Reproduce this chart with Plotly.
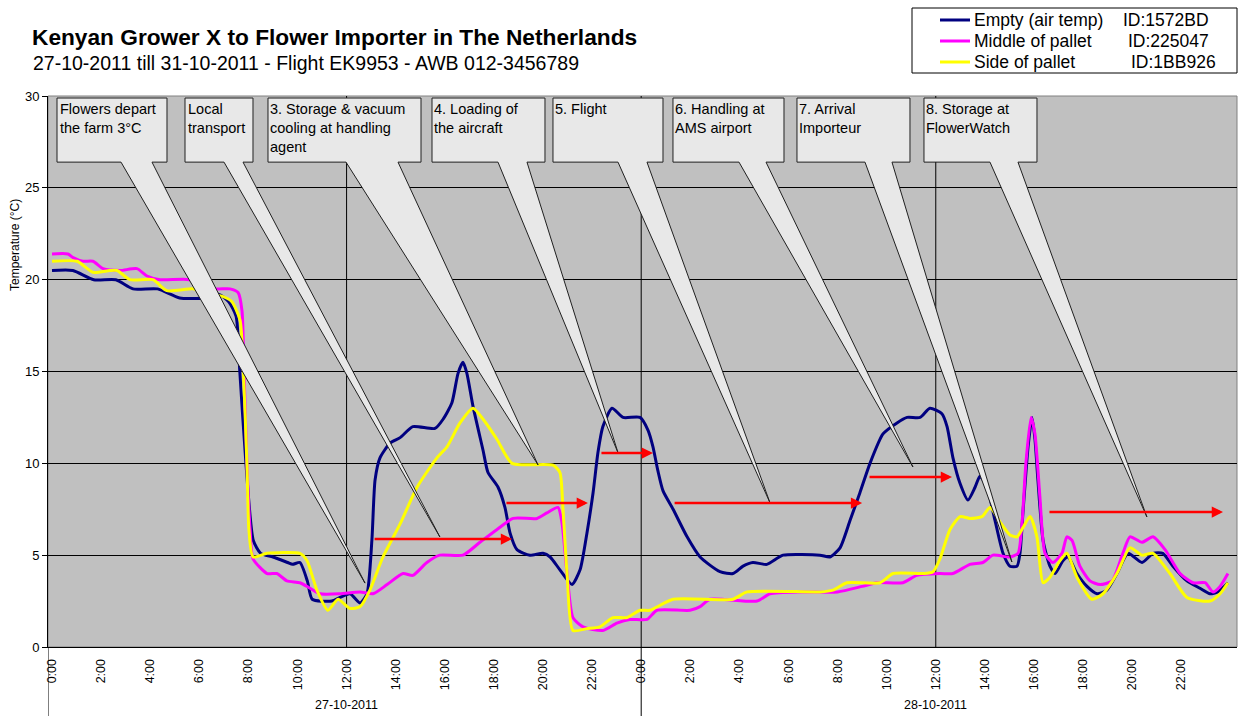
import plotly.graph_objects as go

# ------------------------------------------------------------------ data
# time axis: hours since 27-10-2011 0:00
empty_hours = [0.0, 0.85, 1.7, 2.6, 3.3, 4.3, 5.2, 6.2, 6.8, 7.2, 7.5, 7.65, 7.9, 8.2, 8.5, 9.0,
               9.6, 9.8, 10.1, 10.4, 10.6, 11.4, 11.73, 12.14, 12.55, 12.83, 13.03, 13.16, 13.36,
               13.77, 14.18, 14.70, 15.60, 15.93, 16.29, 16.54, 16.74, 16.90, 17.15, 17.56, 17.76,
               18.17, 18.45, 18.66, 18.94, 19.47, 20.0, 20.29, 20.69, 21.18, 21.51, 21.79, 22.04,
               22.24, 22.44, 22.81, 23.26, 23.95, 24.28, 24.48, 24.68, 24.89, 25.30, 25.87, 26.40,
               27.21, 27.74, 28.15, 28.55, 29.12, 29.78, 31.28, 31.69, 32.10, 32.51, 32.91, 33.32,
               33.85, 34.42, 34.83, 35.36, 35.76, 36.25, 36.46, 36.70, 36.99, 37.31, 37.60, 37.80,
               38.09, 38.41, 38.74, 39.02, 39.31, 39.43, 39.55, 39.76, 39.92, 40.04, 40.16, 40.37,
               40.65, 40.86, 41.18, 41.39, 41.75, 42.16, 42.57, 42.97, 43.38, 43.83, 44.40, 44.85,
               45.25, 45.66, 46.23, 46.76, 47.17, 47.49, 47.90]
empty_temp = [20.5, 20.5, 20.0, 20.0, 19.5, 19.5, 19.0, 19.0, 19.2, 18.8, 18.0, 15.0, 10.0, 5.8, 5.1, 4.9,
              4.6, 4.5, 4.6, 3.6, 2.6, 2.5, 2.7, 2.9, 2.4, 2.9, 5.8, 9.1, 10.3,
              11.1, 11.4, 12.0, 11.9, 12.4, 13.3, 14.9, 15.5, 14.9, 13.1, 10.7, 9.5,
              8.7, 7.6, 6.2, 5.3, 5.0, 5.1, 4.9, 4.2, 3.4, 4.2, 6.2, 8.4,
              10.6, 12.0, 13.0, 12.5, 12.5, 11.8, 10.9, 9.6, 8.5, 7.5, 6.0, 4.9,
              4.1, 4.0, 4.4, 4.6, 4.5, 5.0, 5.0, 4.9, 5.4, 6.9, 8.4, 10.0,
              11.6, 12.2, 12.5, 12.5, 13.0, 12.7, 12.0, 10.3, 8.9, 8.0, 8.7, 9.3,
              8.7, 6.9, 5.1, 4.4, 4.4, 5.1, 7.3, 10.9, 12.5, 11.3, 9.1, 5.8,
              4.4, 4.0, 4.7, 4.9, 4.0, 3.3, 2.9, 3.1, 4.0, 5.1, 4.6, 5.1,
              5.1, 4.4, 3.6, 3.2, 2.9, 3.0, 3.5]

middle_hours = [0.0, 0.65, 0.86, 1.26, 1.67, 2.08, 2.77, 3.46, 3.87, 4.40, 5.62, 6.56, 7.25, 7.58,
                7.74, 7.82, 7.94, 8.07, 8.19, 8.76, 9.16, 9.57, 10.10, 10.51, 10.92, 11.73, 12.55,
                13.08, 13.65, 14.30, 14.70, 15.27, 15.80, 16.74, 17.43, 18.13, 18.78, 19.76, 20.16,
                20.61, 20.77, 20.98, 21.22, 21.63, 22.44, 23.01, 23.54, 24.24, 24.64, 25.99,
                26.40, 26.80, 28.72, 29.25, 30.5, 32.0, 33.0, 33.60, 34.66, 35.23, 36.17, 36.70,
                37.39, 37.92, 38.33, 39.02, 39.35, 39.51, 39.67, 39.88, 40.04, 40.24, 40.45, 40.77,
                41.14, 41.34, 41.55, 41.87, 42.28, 42.69, 43.18, 43.62, 43.91, 44.40, 44.85, 45.34,
                45.95, 46.48, 46.97, 47.29, 47.58, 47.90]
middle_temp = [21.4, 21.4, 21.2, 21.0, 21.0, 20.6, 20.5, 20.6, 20.2, 20.0, 20.0, 19.5, 19.5, 19.3,
               18.3, 15.1, 10.0, 6.4, 4.8, 4.0, 4.0, 3.6, 3.5, 3.2, 2.9, 2.9, 3.0,
               2.9, 3.4, 4.0, 3.9, 4.6, 5.0, 5.0, 5.7, 6.4, 7.0, 7.0, 7.3,
               7.6, 6.8, 4.0, 1.6, 1.1, 0.9, 1.3, 1.5, 1.5, 2.0, 2.0,
               2.2, 2.6, 2.5, 2.9, 3.0, 3.0, 3.3, 3.5, 3.5, 3.9, 4.0, 4.0,
               4.5, 4.6, 5.0, 4.9, 5.1, 6.7, 10.0, 12.5, 11.6, 8.2, 5.1, 4.6,
               5.1, 6.0, 5.8, 4.4, 3.6, 3.4, 3.6, 5.1, 6.0, 5.7, 6.0, 5.3,
               4.0, 3.5, 3.5, 3.0, 3.3, 4.0]

side_hours = [0.0, 1.02, 1.67, 2.36, 2.65, 3.18, 4.11, 4.68, 5.74, 6.15, 6.92, 7.33, 7.66, 7.78,
              7.94, 8.02, 8.19, 8.76, 10.10, 10.39, 10.79, 11.24, 11.65, 12.14, 12.55, 12.95,
              13.48, 14.18, 14.87, 15.68, 16.09, 16.62, 17.15, 17.56, 18.13, 18.74, 20.41, 20.69,
              20.81, 20.98, 21.22, 21.79, 22.32, 22.85, 23.42, 23.95, 24.36, 25.30, 27.74, 28.31,
              31.28, 31.81, 32.38, 33.73, 34.26, 35.48, 35.89, 36.17, 36.58, 36.99, 37.39, 37.88,
              38.21, 38.62, 39.02, 39.31, 39.55, 39.84, 40.12, 40.37, 40.65, 41.06, 41.34, 41.75,
              42.36, 42.81, 43.38, 43.91, 44.40, 44.85, 45.54, 46.23, 47.17, 47.58, 47.90]
side_temp = [21.0, 21.0, 20.4, 20.5, 20.5, 20.0, 20.0, 19.4, 19.5, 19.3, 19.1, 18.8, 17.8, 15.5,
             10.0, 6.4, 4.9, 5.1, 5.1, 4.7, 3.1, 2.0, 2.6, 2.1, 2.2, 3.1,
             4.9, 6.7, 8.7, 10.3, 10.9, 12.2, 13.0, 12.4, 11.3, 10.0, 9.9, 9.5,
             7.6, 4.0, 0.9, 1.0, 1.1, 1.6, 1.6, 2.0, 2.0, 2.6, 2.6, 3.0,
             3.0, 3.1, 3.5, 3.5, 4.0, 4.0, 4.1, 4.8, 6.4, 7.1, 7.0, 7.1,
             7.6, 6.8, 6.1, 6.0, 6.5, 7.1, 6.0, 3.5, 3.8, 4.7, 5.1, 3.8,
             2.6, 2.9, 4.0, 5.4, 5.0, 5.1, 4.0, 2.7, 2.5, 2.9, 3.5]

series_names = ["Empty (air temp)", "Middle of pallet", "Side of pallet"]
series_ids = ["ID:1572BD", "ID:225047", "ID:1BB926"]
series_colors = ["#000080", "#FF00FF", "#FFFF00"]

tick_hours = [0, 2, 4, 6, 8, 10, 12, 14, 16, 18, 20, 22,
              24, 26, 28, 30, 32, 34, 36, 38, 40, 42, 44, 46]
tick_labels = ["0:00", "2:00", "4:00", "6:00", "8:00", "10:00", "12:00", "14:00", "16:00", "18:00", "20:00", "22:00",
               "0:00", "2:00", "4:00", "6:00", "8:00", "10:00", "12:00", "14:00", "16:00", "18:00", "20:00", "22:00"]
day_labels = ["27-10-2011", "28-10-2011"]
day_centers = [12, 36]
day_bounds = [24]
grid_hours = [12, 24, 36]

# red phase arrows (start hour, end hour, temperature level)
arrow_start = [13.08, 18.45, 22.32, 25.30, 33.24, 40.57]
arrow_end = [18.74, 21.83, 24.48, 33.00, 36.66, 47.70]
arrow_level = [5.88, 7.84, 10.56, 7.84, 9.25, 7.35]

# callouts
callout_text = ["Flowers depart<br>the farm 3°C", "Local<br>transport",
                "3. Storage & vacuum<br>cooling at handling<br>agent", "4. Loading of<br>the aircraft",
                "5. Flight", "6. Handling at<br>AMS airport", "7. Arrival<br>Importeur",
                "8. Storage at<br>FlowerWatch"]
callout_left = [0.204, 5.418, 8.798, 15.479, 20.407, 25.295, 30.346, 35.519]
callout_right = [4.684, 8.187, 15.031, 20.081, 24.888, 29.817, 34.949, 40.122]
callout_base_l = [2.811, 7.006, 11.976, 18.167, 23.055, 27.984, 33.116, 38.208]
callout_base_r = [4.073, 7.780, 14.094, 19.348, 24.236, 29.084, 34.216, 39.348]
callout_tip_h = [12.75, 15.80, 19.80, 23.06, 29.25, 35.07, 39.10, 44.60]
callout_tip_t = [3.48, 5.99, 9.91, 10.56, 7.84, 9.80, 4.63, 7.08]
callout_top = 29.89
callout_bottom = 26.40

# ------------------------------------------------------------------ layout geometry
W, H = 1240, 716
ML, MR, MT, MB = 48, 3, 96, 69
PW, PH = W - ML - MR, H - MT - MB
X0, X1 = -0.163, 48.27
FONT = "Liberation Sans, Arial, sans-serif"


def px(x):
    return (x - ML) / PW


def py(y):
    return (H - MB - y) / PH


fig = go.Figure()

for hrs, temps, name, col in zip([empty_hours, middle_hours, side_hours],
                                 [empty_temp, middle_temp, side_temp],
                                 series_names, series_colors):
    fig.add_trace(go.Scatter(x=hrs, y=temps, mode="lines", name=name,
                             line=dict(color=col, width=3, shape="spline", smoothing=0.6),
                             showlegend=False, hoverinfo="skip"))

shapes = []
# vertical gridlines
for g in grid_hours:
    shapes.append(dict(type="line", xref="x", yref="y", x0=g, x1=g, y0=0, y1=30,
                       line=dict(color="black", width=1), layer="between"))
# plot border (top/right)
shapes.append(dict(type="rect", xref="paper", yref="paper", x0=0, x1=1, y0=0, y1=1,
                   line=dict(color="#808080", width=1), layer="below"))
# category separators below axis
for b in [X0] + day_bounds:
    shapes.append(dict(type="line", xref="x", yref="paper", x0=b, x1=b, y0=0, y1=py(716),
                       line=dict(color="black", width=1)))
# callouts (speech bubble shapes)
for i in range(len(callout_text)):
    l, r = callout_left[i], callout_right[i]
    bl, br = callout_base_l[i], callout_base_r[i]
    th, tt = callout_tip_h[i], callout_tip_t[i]
    path = (f"M{l},{callout_top} L{r},{callout_top} L{r},{callout_bottom} L{br},{callout_bottom} "
            f"L{th},{tt} L{bl},{callout_bottom} L{l},{callout_bottom} Z")
    shapes.append(dict(type="path", xref="x", yref="y", path=path,
                       fillcolor="#E8E8E8", line=dict(color="#202020", width=1), layer="above"))

# legend box
shapes.append(dict(type="rect", xref="paper", yref="paper", x0=px(912), x1=px(1237), y0=py(73), y1=py(8),
                   fillcolor="white", line=dict(color="black", width=1)))
legend_rows = [20, 41, 62]
for yy, col in zip(legend_rows, series_colors):
    shapes.append(dict(type="line", xref="paper", yref="paper", x0=px(940), x1=px(970), y0=py(yy), y1=py(yy),
                       line=dict(color=col, width=3)))

annotations = []
# subtitle
annotations.append(dict(xref="paper", yref="paper", x=px(31), y=py(63), xanchor="left", yanchor="middle",
                        text="27-10-2011 till 31-10-2011 - Flight EK9953 - AWB 012-3456789", showarrow=False,
                        font=dict(family=FONT, size=19.5, color="black")))
# y title
annotations.append(dict(xref="paper", yref="paper", x=px(15), y=py(245), xanchor="center", yanchor="middle",
                        text="Temperature (°C)", textangle=-90, showarrow=False,
                        font=dict(family=FONT, size=12, color="black")))
# day labels
for c, lab in zip(day_centers, day_labels):
    annotations.append(dict(xref="x", yref="paper", x=c, y=py(705), xanchor="center", yanchor="middle",
                            text=lab, showarrow=False, font=dict(family=FONT, size=12.5, color="black")))
# legend texts
id_x = [1123, 1128, 1131]
for yy, nm, sid, ix in zip(legend_rows, series_names, series_ids, id_x):
    annotations.append(dict(xref="paper", yref="paper", x=px(972), y=py(yy), xanchor="left", yanchor="middle",
                            text=nm, showarrow=False, font=dict(family=FONT, size=17.5, color="black")))
    annotations.append(dict(xref="paper", yref="paper", x=px(ix - 2), y=py(yy), xanchor="left", yanchor="middle",
                            text=sid, showarrow=False, font=dict(family=FONT, size=17.5, color="black")))
# callout texts
for i, t in enumerate(callout_text):
    annotations.append(dict(xref="x", yref="y", x=callout_left[i] + 0.02, y=callout_top - 0.05,
                            xanchor="left", yanchor="top", align="left", text=t, showarrow=False,
                            font=dict(family=FONT, size=14.5, color="black")))
# red arrows
for s, e, lv in zip(arrow_start, arrow_end, arrow_level):
    annotations.append(dict(xref="x", yref="y", axref="x", ayref="y", x=e, y=lv, ax=s, ay=lv,
                            text="", showarrow=True, arrowhead=2, arrowsize=0.9, arrowwidth=2.5,
                            arrowcolor="#FF0000", standoff=0, startstandoff=0))

fig.update_layout(
    width=W, height=H,
    margin=dict(l=ML, r=MR, t=MT, b=MB, pad=0),
    paper_bgcolor="white", plot_bgcolor="#C0C0C0",
    title=dict(text="<b>Kenyan Grower X to Flower Importer in The Netherlands</b>",
               xref="container", yref="container", x=32 / W, xanchor="left",
               y=1 - 37 / H, yanchor="middle",
               font=dict(family=FONT, size=22.7, color="black")),
    font=dict(family=FONT, color="black"),
    showlegend=False,
    shapes=shapes, annotations=annotations,
    xaxis=dict(range=[X0, X1], tickmode="array", tickvals=tick_hours, ticktext=tick_labels,
               tickangle=-90, tickfont=dict(family=FONT, size=12.5, color="black"),
               ticks="outside", ticklen=6, tickcolor="rgba(0,0,0,0)",
               showgrid=False, zeroline=False, showline=True, linecolor="black", linewidth=1,
               fixedrange=True),
    yaxis=dict(range=[0, 30], tickmode="linear", tick0=0, dtick=5,
               tickfont=dict(family=FONT, size=13, color="black"),
               ticks="outside", ticklen=5, tickcolor="black",
               showgrid=True, gridcolor="black", gridwidth=1,
               zeroline=False, showline=True, linecolor="black", linewidth=1, fixedrange=True),
)

fig.write_html("out.html", config={"displayModeBar": False},
               post_script="document.body.style.margin='0';")
